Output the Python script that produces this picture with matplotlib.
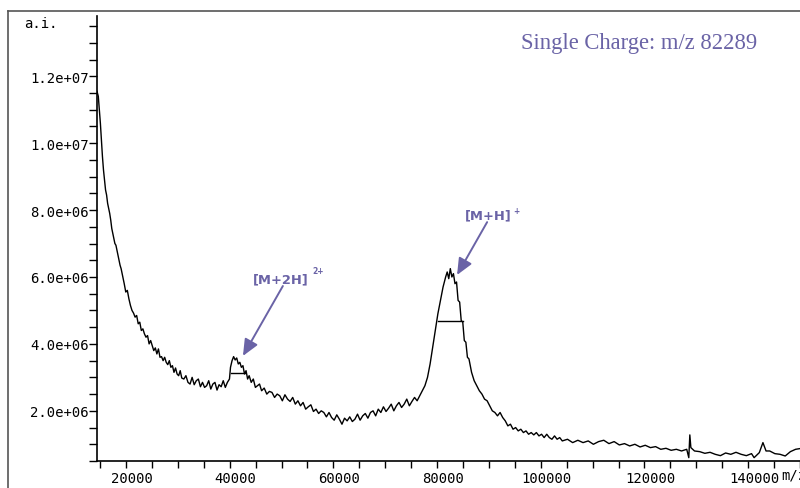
import numpy as np
import matplotlib
matplotlib.use("Agg")
import matplotlib.pyplot as plt
from matplotlib.lines import Line2D

PURPLE = "#6A63A6"

# spectrum: m/z and intensity (in 1e6 a.i.)
mz = [
    13250, 13500, 13700, 13900, 14100, 14300, 14500, 14700, 14900, 15100,
    15300, 15500, 15700, 15900, 16100, 16300, 16500, 16700, 16900, 17100,
    17300, 17500, 17700, 17900, 18100, 18300, 18500, 18800, 19100, 19400,
    19700, 20000, 20300, 20600, 20900, 21200, 21500, 21800, 22100, 22400,
    22700, 23000, 23300, 23600, 23900, 24200, 24500, 24800, 25100, 25400,
    25700, 26000, 26300, 26600, 26900, 27200, 27500, 27800, 28100, 28400,
    28700, 29000, 29300, 29600, 30000, 30400, 30800, 31200, 31600, 32000,
    32400, 32800, 33200, 33600, 34000, 34400, 34800, 35200, 35600, 36000,
    36400, 36800, 37200, 37600, 38000, 38400, 38800, 39000, 39300, 39600,
    39900, 40200, 40500, 40800, 41100, 41400, 41700, 42000, 42300, 42600,
    43000, 43400, 43800, 44200, 44600, 45000, 45500, 46000, 46500, 47000,
    47500, 48000, 48500, 49000, 49500, 50000, 50500, 51000, 51500, 52000,
    52500, 53000, 53500, 54000, 54500, 55000, 55500, 56000, 56500, 57000,
    57500, 58000, 58500, 59000, 59500, 60000, 60500, 61000, 61500, 62000,
    62500, 63000, 63500, 64000, 64500, 65000, 65500, 66000, 66500, 67000,
    67500, 68000, 68500, 69000, 69500, 70000, 70500, 71000, 71500, 72000,
    72500, 73000, 73500, 74000, 74500, 75000, 75500, 76000, 76500, 77000,
    77500, 78000, 78500, 79000, 79500, 80000, 80500, 80800, 81100, 81400,
    81700, 82000, 82300, 82600, 82900, 83200, 83500, 83800, 84100, 84400,
    84700, 85000, 85500, 86000, 86500, 87000, 87500, 88000, 88500, 89000,
    89500, 90000, 90500, 91000, 91500, 92000, 92500, 93000, 93500, 94000,
    94500, 95000, 95500, 96000, 96500, 97000, 97500, 98000, 98500, 99000,
    99500, 100000, 100500, 101000, 101500, 102000, 102500, 103000, 104000, 105000,
    106000, 107000, 108000, 109000, 110000, 111000, 112000, 113000, 114000, 115000,
    116000, 117000, 118000, 119000, 120000, 121000, 122000, 123000, 124000, 125000,
    126000, 127000, 127400, 127600, 127800, 128500, 129500, 130500, 131500, 132500,
    133500, 134500, 135500, 136500, 137500, 138500, 139500, 140000, 141000, 141700,
    142300, 143000, 144000, 145000, 146000, 147000, 148000, 148800,
]
intensity = [
    11.55, 11.4, 11.0, 10.6, 10.1, 9.6, 9.2, 8.9, 8.6, 8.45,
    8.2, 8.05, 7.9, 7.7, 7.45, 7.3, 7.15, 7.0, 6.95, 6.8,
    6.65, 6.5, 6.35, 6.25, 6.1, 5.95, 5.8, 5.55, 5.6, 5.35,
    5.15, 5.0, 4.92, 4.8, 4.85, 4.6, 4.65, 4.4, 4.45, 4.3,
    4.2, 4.25, 4.0, 4.1, 3.95, 3.8, 3.88, 3.7, 3.85, 3.6,
    3.62, 3.5, 3.6, 3.45, 3.38, 3.5, 3.3, 3.35, 3.15, 3.28,
    3.1, 3.05, 3.2, 2.98, 2.95, 3.05, 2.85, 2.8, 3.0, 2.78,
    2.9, 2.95, 2.72, 2.85, 2.7, 2.75, 2.9, 2.65, 2.8, 2.85,
    2.62, 2.78, 2.72, 2.9, 2.7, 2.85, 2.95, 3.3, 3.5, 3.62,
    3.52, 3.58, 3.4, 3.45, 3.3, 3.35, 3.1, 3.2, 2.95, 3.05,
    2.85, 2.95, 2.7, 2.75, 2.8, 2.6, 2.68, 2.5, 2.58, 2.55,
    2.4, 2.5, 2.45, 2.3, 2.48, 2.35, 2.28, 2.4, 2.2, 2.3,
    2.15, 2.25, 2.05, 2.12, 2.18, 1.98, 2.05, 1.92, 2.0, 1.95,
    1.82, 1.95, 1.8, 1.72, 1.88, 1.75, 1.6, 1.78, 1.7, 1.82,
    1.68, 1.75, 1.9, 1.72, 1.85, 1.92, 1.78, 1.95, 2.0, 1.85,
    2.05, 1.95, 2.12, 1.98, 2.08, 2.2, 2.0, 2.15, 2.25, 2.1,
    2.2, 2.35, 2.15, 2.28, 2.4, 2.3, 2.45, 2.6, 2.75, 3.0,
    3.4, 3.9, 4.4, 4.9, 5.3, 5.7, 6.0, 6.15, 5.95, 6.25,
    6.0, 6.1, 5.8, 5.85, 5.3, 5.25, 4.7, 4.65, 4.1, 4.05,
    3.6, 3.55, 3.15, 2.9, 2.75, 2.6, 2.5, 2.35, 2.3, 2.15,
    2.0, 1.95, 1.85, 1.95, 1.8, 1.7, 1.55, 1.6, 1.45, 1.5,
    1.4, 1.45, 1.35, 1.4, 1.3, 1.35, 1.28, 1.35, 1.25, 1.3,
    1.2, 1.3, 1.2, 1.15, 1.25, 1.15, 1.2, 1.1, 1.15, 1.05,
    1.12, 1.05, 1.1, 1.0, 1.08, 1.12, 1.02, 1.08, 0.98, 1.02,
    0.95, 1.0, 0.92, 0.97, 0.9, 0.93, 0.85, 0.88, 0.82, 0.85,
    0.8, 0.85, 0.6, 1.28, 0.9, 0.8, 0.78, 0.73, 0.76, 0.7,
    0.66, 0.74, 0.7, 0.76, 0.7, 0.66, 0.72, 0.6, 0.75, 1.05,
    0.8, 0.8, 0.72, 0.7, 0.65, 0.78, 0.85, 0.87,
]

# half-height bars drawn across both peaks
fwhm_left = [39100, 79040]
fwhm_right = [41800, 83860]
fwhm_level = [3.13, 4.69]

xtick_values = [20000, 40000, 60000, 80000, 100000, 120000, 140000]
ytick_values = [2e6, 4e6, 6e6, 8e6, 1e7, 1.2e7]

fig = plt.figure(figsize=(8, 4.89), dpi=100)
ax = fig.add_axes([0.12125, 0.0552, 0.87875, 0.91])

y = np.array(intensity) * 1e6
ax.plot(mz, y, color="black", lw=1.0)
for x0, x1, lvl in zip(fwhm_left, fwhm_right, fwhm_level):
    ax.plot([x0, x1], [lvl * 1e6, lvl * 1e6], color="black", lw=1.0)

ax.set_xlim(13250, 148850)
ax.set_ylim(0.5e6, 13.8e6)

for side in ("top", "right"):
    ax.spines[side].set_visible(False)
for side in ("left", "bottom"):
    ax.spines[side].set_linewidth(1.2)

mono = "DejaVu Sans Mono"
ax.set_yticks(ytick_values)
ax.set_yticklabels(["%.1e" % v for v in ytick_values], family=mono, fontsize=10)
ax.set_yticks(np.arange(0.5e6, 13.6e6, 0.5e6), minor=True)
ax.tick_params(axis="y", which="both", direction="out", length=6, width=1, pad=0)

# labels sit on round values, tick marks are offset as in the original software
ax.set_xticks(xtick_values)
ax.set_xticklabels([str(v) for v in xtick_values], family=mono, fontsize=10)
ax.tick_params(axis="x", which="major", length=0, pad=7)
ax.set_xticks(np.arange(13850, 149000, 5000), minor=True)
ax.tick_params(axis="x", which="minor", direction="out", length=5, width=1)

fig.text(781 / 800, 1 - 476 / 489, "m/z", family=mono, fontsize=10, va="center", ha="left")
fig.text(24 / 800, 1 - 24 / 489, "a.i.", family=mono, fontsize=10, va="center", ha="left")

# outer frame of the original window
fig.add_artist(Line2D([8 / 800, 8 / 800], [0, 1 - 12 / 489], color="#555555", lw=1.2,
                      transform=fig.transFigure))
fig.add_artist(Line2D([8 / 800, 1], [1 - 12 / 489, 1 - 12 / 489], color="#555555", lw=1.2,
                      transform=fig.transFigure))

fig.text(521 / 800, 1 - 44 / 489, "Single Charge: m/z 82289", family="Liberation Serif",
         fontsize=16.3, color=PURPLE, va="center", ha="left")

arrow = dict(arrowstyle="-|>,head_length=0.5,head_width=0.22", color=PURPLE, lw=1.4,
             mutation_scale=20, shrinkA=0, shrinkB=0)
ax.annotate("", xy=(41400, 3.64e6), xytext=(49100, 5.73e6), arrowprops=arrow)
ax.annotate("", xy=(82700, 6.06e6), xytext=(88500, 7.64e6), arrowprops=arrow)

ax.text(43350, 5.94e6, "[M+2H]", color=PURPLE, fontsize=9.4, fontweight="bold", va="center")
ax.text(54700, 6.2e6, "2+", color=PURPLE, fontsize=5.5, fontweight="bold", va="center")
ax.text(84250, 7.85e6, "[M+H]", color=PURPLE, fontsize=9.4, fontweight="bold", va="center")
ax.text(93500, 7.99e6, "+", color=PURPLE, fontsize=5.5, fontweight="bold", va="center")

fig.savefig("out.png", dpi=100)
